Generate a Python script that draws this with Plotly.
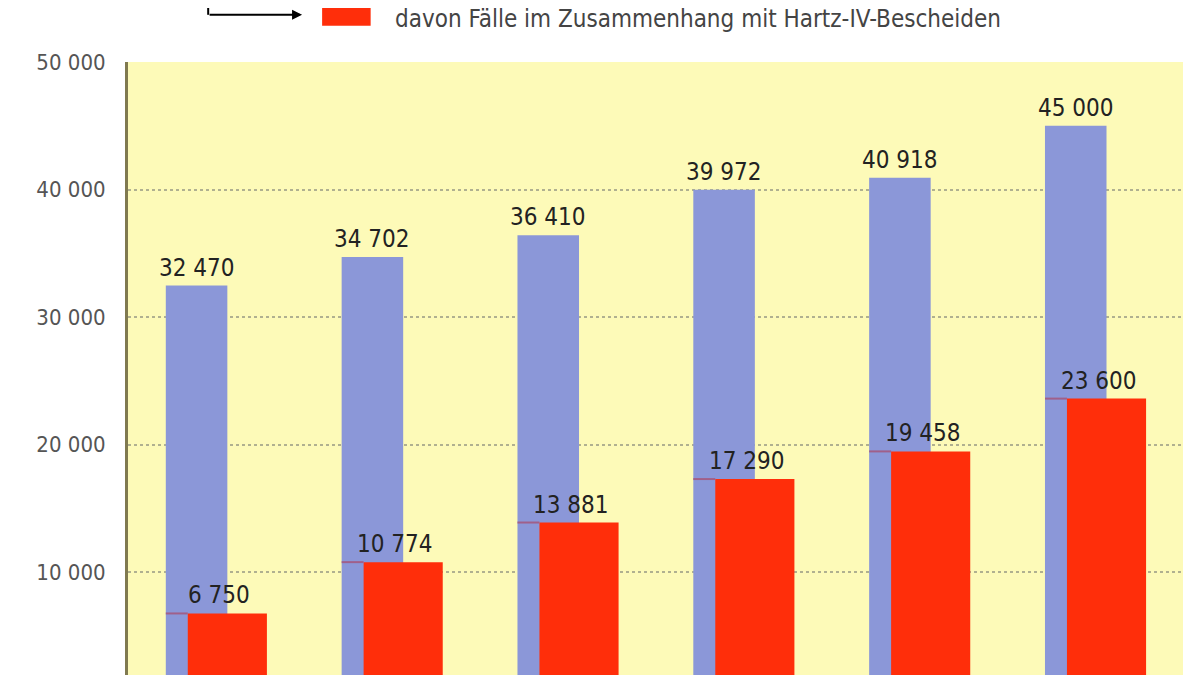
import plotly.graph_objects as go

years = [0, 1, 2, 3, 4, 5]
total_cases = [32470, 34702, 36410, 39972, 40918, 45000]
hartz_cases = [6750, 10774, 13881, 17290, 19458, 23600]
tick_vals = [10000, 20000, 30000, 40000, 50000]
tick_text = ["10 000", "20 000", "30 000", "40 000", "50 000"]
legend_text = "davon Fälle im Zusammenhang mit Hartz-IV-Bescheiden"


def fmt(v):
    s = f"{v:,}".replace(",", " ")
    return s


fig = go.Figure()
fig.add_trace(go.Bar(x=years, y=total_cases, width=0.35, offset=-0.285,
                     marker=dict(color="#8b97d8", line_width=0)))
fig.add_trace(go.Bar(x=years, y=hartz_cases, width=0.45, offset=-0.16,
                     marker=dict(color="#ff2e0a", line_width=0)))

for x, t, h in zip(years, total_cases, hartz_cases):
    fig.add_annotation(x=x - 0.11, y=t, text=fmt(t), showarrow=False, yanchor="bottom",
                       yshift=2, font=dict(size=24, color="#222", family="DejaVu Sans Condensed"))
    fig.add_annotation(x=x + 0.02, y=h, text=fmt(h), showarrow=False, yanchor="bottom",
                       yshift=2, font=dict(size=24, color="#222", family="DejaVu Sans Condensed"))
    # thin purple line where the red bar starts
    fig.add_shape(type="line", x0=x - 0.285, x1=x - 0.16, y0=h, y1=h,
                  line=dict(color="#a0608a", width=2))

# legend stub at top
fig.add_shape(type="line", xref="paper", yref="paper", x0=0.076, x1=0.076, y0=1.12, y1=1.077,
              line=dict(color="black", width=2))
fig.add_annotation(xref="paper", yref="paper", x=0.165, y=1.077, ax=-94, ay=0,
                   showarrow=True, arrowhead=2, yanchor="middle",
                   arrowwidth=2, arrowcolor="black", text="")
fig.add_shape(type="rect", xref="paper", yref="paper", x0=0.184, x1=0.23, y0=1.059, y1=1.12,
              fillcolor="#ff2e0a", line_width=0)
fig.add_annotation(xref="paper", yref="paper", x=0.251, y=1.07, text=legend_text,
                   showarrow=False, xanchor="left", yanchor="middle",
                   font=dict(size=24, color="#444", family="DejaVu Sans Condensed"))

fig.update_layout(
    width=1200, height=675,
    margin=dict(l=120, r=25, t=54, b=8),
    paper_bgcolor="white", plot_bgcolor="#fdfab8",
    barmode="overlay", showlegend=False,
    xaxis=dict(range=[-0.5, 5.5], showticklabels=False, showgrid=False, zeroline=False,
               automargin=False),
    yaxis=dict(range=[1922, 50000], tickvals=tick_vals, ticktext=tick_text,
               gridcolor="#b0b090", griddash="dot", gridwidth=2, automargin=False,
               showline=True, linecolor="#807a50", linewidth=3, zeroline=False,
               tickfont=dict(size=22, color="#555", family="DejaVu Sans Condensed"),
               ticklen=0, ticklabelstandoff=15),
)
fig.write_html("out.html")
